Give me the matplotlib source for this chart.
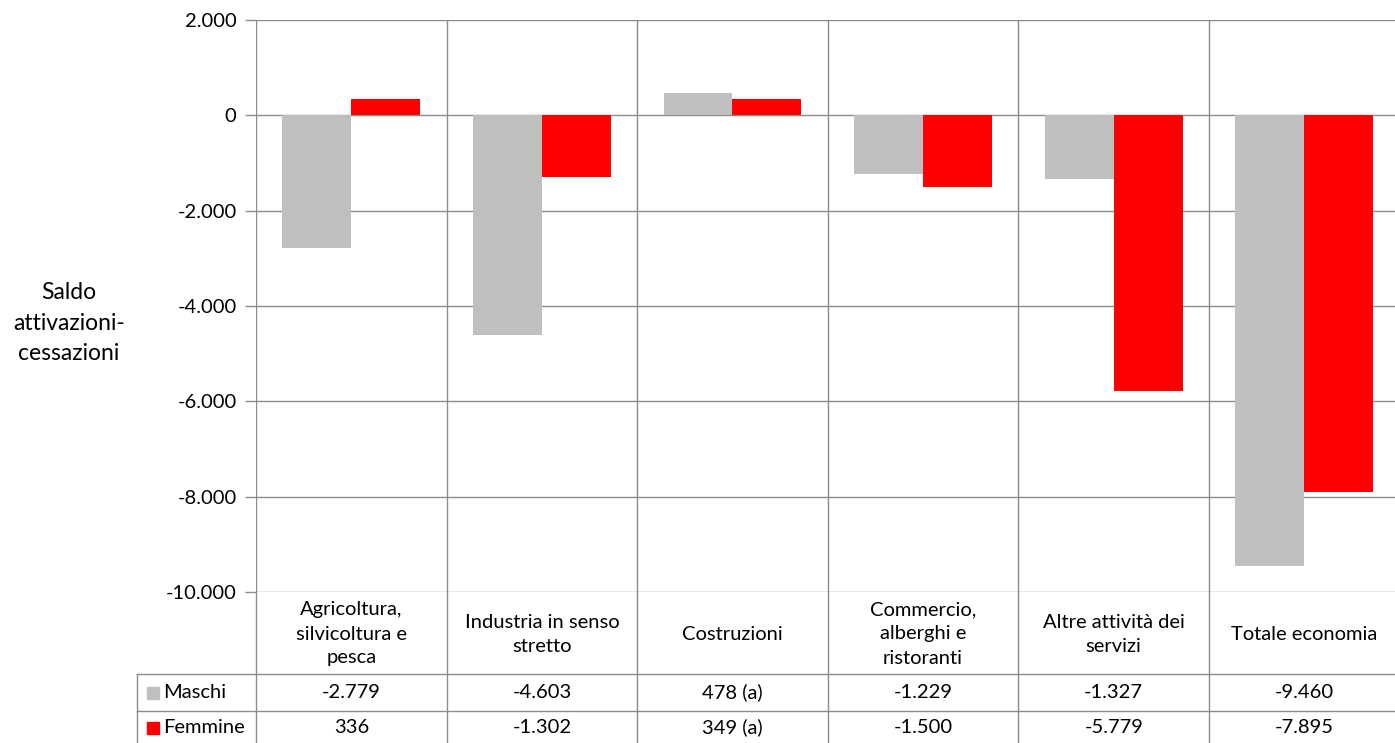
import matplotlib
matplotlib.use("Agg")
import matplotlib.pyplot as plt
from matplotlib.lines import Line2D
from matplotlib.patches import Rectangle
import numpy as np

categories = ["Agricoltura,\nsilvicoltura e\npesca", "Industria in senso\nstretto", "Costruzioni",
              "Commercio,\nalberghi e\nristoranti", "Altre attività dei\nservizi", "Totale economia"]
maschi = [-2779, -4603, 478, -1229, -1327, -9460]
femmine = [336, -1302, 349, -1500, -5779, -7895]
maschi_labels = ["-2.779", "-4.603", "478 (a)", "-1.229", "-1.327", "-9.460"]
femmine_labels = ["336", "-1.302", "349 (a)", "-1.500", "-5.779", "-7.895"]
series_names = ["Maschi", "Femmine"]
yticks = [2000, 0, -2000, -4000, -6000, -8000, -10000]
ytick_labels = ["2.000", "0", "-2.000", "-4.000", "-6.000", "-8.000", "-10.000"]

GRAY = "#BFBFBF"
RED = "#FF0000"
LINE = "#8C8C8C"
FONT = "Lato"
FS = 14.5

W, H = 1395, 743
fig = plt.figure(figsize=(W / 100, H / 100), dpi=100)

x0, y_top, y_bot = 256, 20, 592
colw = 190.6
ax = fig.add_axes([x0 / W, 1 - y_bot / H, 6 * colw / W, (y_bot - y_top) / H])
ax.set_xlim(0, 6)
ax.set_ylim(-10000, 2000)

idx = np.arange(len(categories))
bw = 0.362
ax.bar(idx + 0.5 - bw / 2, maschi, width=bw, color=GRAY, zorder=3)
ax.bar(idx + 0.5 + bw / 2, femmine, width=bw, color=RED, zorder=3)

for s in ax.spines.values():
    s.set_visible(False)
ax.set_xticks([])
ax.set_yticks(yticks)
ax.set_yticklabels(ytick_labels, fontsize=FS, family=FONT)
ax.tick_params(axis="y", length=8, color=LINE, width=1, pad=6)
for yv in yticks:
    ax.axhline(yv, color=LINE, lw=1, zorder=1)
for xv in range(0, 7):
    ax.axvline(xv, color=LINE, lw=1, zorder=1)


def fx(px):
    return px / W


def fy(py):
    return 1 - py / H


def hline(xa, xb, py):
    fig.add_artist(Line2D([fx(xa), fx(xb)], [fy(py), fy(py)], color=LINE, lw=1, transform=fig.transFigure))


def vline(px, ya, yb):
    fig.add_artist(Line2D([fx(px), fx(px)], [fy(ya), fy(yb)], color=LINE, lw=1, transform=fig.transFigure))


row1, row2, row3 = 674, 711, 748
hline(137, W, row1)
hline(137, W, row2)
vline(137, row1, H)
for i in range(7):
    vline(x0 + i * colw, y_bot, H)

for i, cat in enumerate(categories):
    cx = x0 + (i + 0.5) * colw
    fig.text(fx(cx), fy((y_bot + row1) / 2 + 1), cat, ha="center", va="center",
             fontsize=FS, family=FONT, linespacing=1.5)
    fig.text(fx(cx), fy((row1 + row2) / 2), maschi_labels[i], ha="center", va="center",
             fontsize=FS, family=FONT)
    fig.text(fx(cx), fy((row2 + row3) / 2 - 2), femmine_labels[i], ha="center", va="center",
             fontsize=FS, family=FONT)

for name, col, (ra, rb) in zip(series_names, [GRAY, RED], [(row1, row2), (row2, row3 - 4)]):
    cy = (ra + rb) / 2
    fig.add_artist(Rectangle((fx(147), fy(cy + 6)), 12 / W, 12 / H, color=col,
                             transform=fig.transFigure))
    fig.text(fx(163), fy(cy), name, ha="left", va="center", fontsize=FS, family=FONT)

fig.text(fx(69), fy(323), "Saldo\nattivazioni-\ncessazioni", ha="center", va="center",
         fontsize=16.5, family=FONT, linespacing=1.55)

fig.savefig("out.png", dpi=100)
